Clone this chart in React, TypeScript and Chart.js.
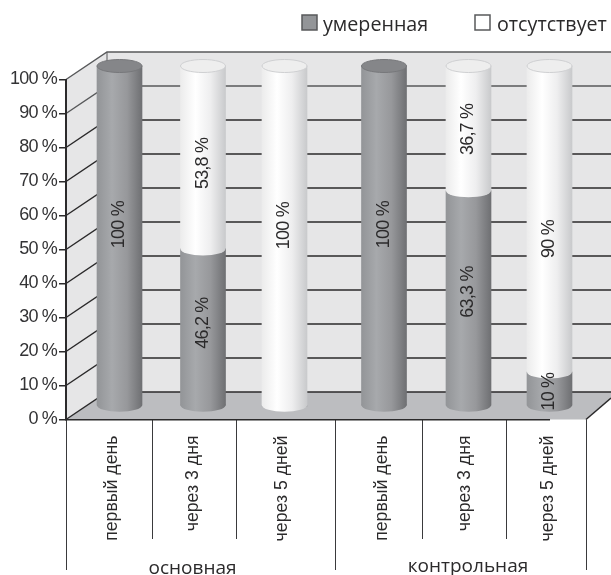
import React, { useEffect, useRef } from "react";
import { Chart, registerables, CategoryScale } from "chart.js";

// Stacked shares per observation day, drawn as cylinders in a 3D-styled box.
const timepoints = ["первый день", "через 3 дня", "через 5 дней", "первый день", "через 3 дня", "через 5 дней"];
const groupNames = ["основная", "контрольная"];
const moderate = [100, 46.2, 0, 100, 63.3, 10];
const absent = [0, 53.8, 100, 0, 36.7, 90];
const moderateLabels = ["100 %", "46,2 %", "", "100 %", "63,3 %", "10 %"];
const absentLabels = ["", "53,8 %", "100 %", "", "36,7 %", "90 %"];
const legendNames = ["умеренная", "отсутствует"];

// Layout constants for the box and its decorations (pixels).
const LEFT = 66, RIGHT = 586, TOP = 79.5, BOTTOM = 419.5;
const DEPTH_X = 41, DEPTH_Y = 27.5;
const BAR_LIFT = 13.5, BAR_W = 45, CAP_RY = 6.5;
const tickCentres = [112, 193, 282, 382, 465, 548];
const barCentres = [119.5, 203, 284.5, 384, 468.5, 549.5];
const longSeparators = [66, 335, 586];
const shortSeparators = [152, 236, 422, 506];
const groupCentres = [192.5, 468];
const groupBaselines = [574, 572];
const moderateTextShift = [-11, -4, 0, -11, -6, 3];
const absentTextShift = [0, 6, -10, 0, 1, 20];

const INK = "#2b2a2b";
const SANS = "'Liberation Sans', Arial, sans-serif";
const ROUNDED = "'Open Sans', 'Noto Sans', sans-serif";
const TIGHT = "-0.8px";

// Category axis whose slots follow the hand-set label centres.
class SlotScale extends CategoryScale {
  static id = "slots";
  static defaults = CategoryScale.defaults;
  getPixelForValue(value: any) {
    const i = typeof value === "number" ? value : (this as any).parse(value);
    return tickCentres[i] ?? NaN;
  }
  drawLabels(area: any) {
    const ctx = (this as any).ctx;
    ctx.letterSpacing = "0px";
    super.drawLabels(area);
    ctx.letterSpacing = TIGHT;
  }
}
Chart.register(...registerables, SlotScale);

function cylinderGradient(ctx: CanvasRenderingContext2D, i: number, stops: string[]) {
  const c = barCentres[i];
  const g = ctx.createLinearGradient(c - BAR_W / 2, 0, c + BAR_W / 2, 0);
  stops.forEach((s, k) => g.addColorStop(k / (stops.length - 1), s));
  return g;
}
const GREY_STOPS = ["#939598", "#a7a9ac", "#97989b", "#6f7073"];
const WHITE_STOPS = ["#ececec", "#ffffff", "#eeeeef", "#c9cacc"];

const boxPlugin = {
  id: "box3d",
  afterDatasetsUpdate(chart: any) {
    // Bars stand mid-way through the box depth, so shift them off the front plane.
    chart.data.datasets.forEach((_: any, d: number) => {
      chart.getDatasetMeta(d).data.forEach((bar: any, i: number) => {
        bar.x = barCentres[i];
        bar.y -= BAR_LIFT;
        bar.base -= BAR_LIFT;
      });
    });
  },
  beforeDraw(chart: any) {
    const { ctx } = chart;
    const y = chart.scales.y;
    const W = chart.width;
    ctx.letterSpacing = TIGHT;
    ctx.save();
    ctx.fillStyle = "#e6e6e7";
    ctx.fillRect(LEFT + DEPTH_X, TOP - DEPTH_Y, W, BOTTOM - TOP);
    ctx.beginPath();
    ctx.moveTo(LEFT, TOP);
    ctx.lineTo(LEFT + DEPTH_X, TOP - DEPTH_Y);
    ctx.lineTo(LEFT + DEPTH_X, BOTTOM - DEPTH_Y);
    ctx.lineTo(LEFT, BOTTOM);
    ctx.closePath();
    ctx.fill();
    // Floor
    ctx.fillStyle = "#bcbdc0";
    ctx.beginPath();
    ctx.moveTo(LEFT, BOTTOM);
    ctx.lineTo(LEFT + DEPTH_X, BOTTOM - DEPTH_Y);
    ctx.lineTo(W, BOTTOM - DEPTH_Y);
    ctx.lineTo(W, 398);
    ctx.lineTo(RIGHT, BOTTOM);
    ctx.closePath();
    ctx.fill();
    // Grid on the back and side walls, taken from the value axis
    y.ticks.forEach((t: any) => {
      const py = y.getPixelForValue(t.value);
      ctx.strokeStyle = t.value >= 90 ? "#58595b" : INK;
      ctx.lineWidth = 1.5;
      ctx.beginPath();
      ctx.moveTo(LEFT, py);
      ctx.lineTo(LEFT + DEPTH_X, py - DEPTH_Y);
      ctx.lineTo(W, py - DEPTH_Y);
      ctx.stroke();
    });
    ctx.strokeStyle = "#58595b";
    ctx.lineWidth = 1;
    ctx.beginPath();
    ctx.moveTo(LEFT + DEPTH_X, TOP - DEPTH_Y);
    ctx.lineTo(LEFT + DEPTH_X, BOTTOM - DEPTH_Y);
    ctx.stroke();
    ctx.strokeStyle = INK;
    ctx.lineWidth = 1.5;
    ctx.beginPath();
    ctx.moveTo(RIGHT, BOTTOM);
    ctx.lineTo(W, 398);
    ctx.stroke();
    // Two-level category separators
    ctx.lineWidth = 1;
    ctx.strokeStyle = "#3a3a3c";
    const sep = (x: number, end: number) => {
      ctx.beginPath();
      ctx.moveTo(x + 0.5, BOTTOM);
      ctx.lineTo(x + 0.5, end);
      ctx.stroke();
    };
    longSeparators.forEach((x) => sep(x, 570));
    shortSeparators.forEach((x) => sep(x, 539));
    ctx.restore();
  },
  afterDatasetsDraw(chart: any) {
    const { ctx } = chart;
    const metas = [chart.getDatasetMeta(0), chart.getDatasetMeta(1)];
    const values = [moderate, absent];
    const stops = [GREY_STOPS, WHITE_STOPS];
    ctx.save();
    // Rounded lower edge of each segment, overlapping the body by a pixel
    metas.forEach((meta, d) => {
      meta.data.forEach((bar: any, i: number) => {
        if (!values[d][i]) return;
        const r = BAR_W / 2;
        ctx.fillStyle = cylinderGradient(ctx, i, stops[d]);
        ctx.beginPath();
        ctx.ellipse(bar.x, bar.base, r, CAP_RY, 0, 0, Math.PI);
        ctx.lineTo(bar.x - r, bar.base - 1);
        ctx.lineTo(bar.x + r, bar.base - 1);
        ctx.closePath();
        ctx.fill();
      });
    });
    // Top cap of each cylinder
    barCentres.forEach((_, i) => {
      const top = metas[1].data[i];
      const grey = absent[i] === 0;
      const capY = grey ? metas[0].data[i].y : top.y;
      ctx.fillStyle = grey ? "#858689" : "#eeeeee";
      ctx.strokeStyle = grey ? "#77787b" : "#cfd0d2";
      ctx.lineWidth = 1;
      ctx.beginPath();
      ctx.ellipse(barCentres[i], capY, BAR_W / 2, CAP_RY, 0, 0, Math.PI * 2);
      ctx.fill();
      ctx.stroke();
    });
    // Value labels turned along the cylinders
    const texts = [moderateLabels, absentLabels];
    const shifts = [moderateTextShift, absentTextShift];
    ctx.font = `18px ${SANS}`;
    ctx.fillStyle = INK;
    ctx.textAlign = "center";
    ctx.textBaseline = "middle";
    metas.forEach((meta, d) => {
      meta.data.forEach((bar: any, i: number) => {
        if (!texts[d][i]) return;
        ctx.save();
        ctx.translate(bar.x, (bar.y + bar.base) / 2 + shifts[d][i]);
        ctx.rotate(-Math.PI / 2);
        ctx.fillText(texts[d][i], 0, 0);
        ctx.restore();
      });
    });
    ctx.restore();
  },
  afterDraw(chart: any) {
    const { ctx } = chart;
    ctx.letterSpacing = "0px";
    ctx.save();
    // Group captions beneath the day labels
    ctx.fillStyle = INK;
    ctx.font = `19px ${ROUNDED}`;
    ctx.textAlign = "center";
    ctx.textBaseline = "alphabetic";
    groupNames.forEach((g, i) => ctx.fillText(g, groupCentres[i], groupBaselines[i]));
    // Legend row
    const entries = [
      { x: 302, fill: "#939598", text: 323 },
      { x: 475, fill: "#ffffff", text: 497 },
    ];
    ctx.font = `19.7px ${ROUNDED}`;
    ctx.textAlign = "left";
    ctx.textBaseline = "alphabetic";
    entries.forEach((e, i) => {
      ctx.fillStyle = e.fill;
      ctx.strokeStyle = "#58595b";
      ctx.lineWidth = 1.5;
      ctx.fillRect(e.x, 15, 15, 15);
      ctx.strokeRect(e.x, 15, 15, 15);
      ctx.fillStyle = INK;
      ctx.fillText(legendNames[i], e.text, 30.5);
    });
    ctx.restore();
  },
};

export default function App() {
  const ref = useRef<HTMLCanvasElement>(null);
  useEffect(() => {
    document.body.style.margin = "0";
    const chart = new Chart(ref.current!, {
      type: "bar",
      data: {
        labels: timepoints,
        datasets: [
          {
            label: legendNames[0],
            data: moderate,
            barThickness: BAR_W,
            clip: false,
            backgroundColor: (c: any) => cylinderGradient(c.chart.ctx, c.dataIndex, GREY_STOPS),
          },
          {
            label: legendNames[1],
            data: absent,
            barThickness: BAR_W,
            clip: false,
            backgroundColor: (c: any) => cylinderGradient(c.chart.ctx, c.dataIndex, WHITE_STOPS),
          },
        ],
      } as any,
      options: {
        animation: false,
        responsive: false,
        layout: { padding: { top: TOP, right: 611 - RIGHT, left: 0, bottom: 0 } },
        plugins: { legend: { display: false }, tooltip: { enabled: false } },
        scales: {
          x: {
            type: "slots",
            stacked: true,
            grid: { display: false, drawTicks: false },
            border: { display: true, color: INK, width: 1.5 },
            ticks: {
              autoSkip: false,
              minRotation: 90,
              maxRotation: 90,
              padding: 16,
              color: INK,
              font: { family: SANS, size: 17.7 },
            },
            afterFit: (s: any) => { s.height = 575 - BOTTOM; },
          },
          y: {
            stacked: true,
            min: 0,
            max: 100,
            grid: { drawOnChartArea: false, tickLength: 7, color: INK, lineWidth: 1.5 },
            border: { display: true, color: INK, width: 2 },
            ticks: {
              stepSize: 10,
              padding: 2,
              color: "#333335",
              font: { family: SANS, size: 18 },
              callback: (v: any) => `${v} %`,
            },
            afterFit: (s: any) => { s.width = LEFT; },
          },
        },
      } as any,
      plugins: [boxPlugin],
    });
    return () => chart.destroy();
  }, []);
  return <canvas ref={ref} width={611} height={575} style={{ display: "block" }} />;
}
